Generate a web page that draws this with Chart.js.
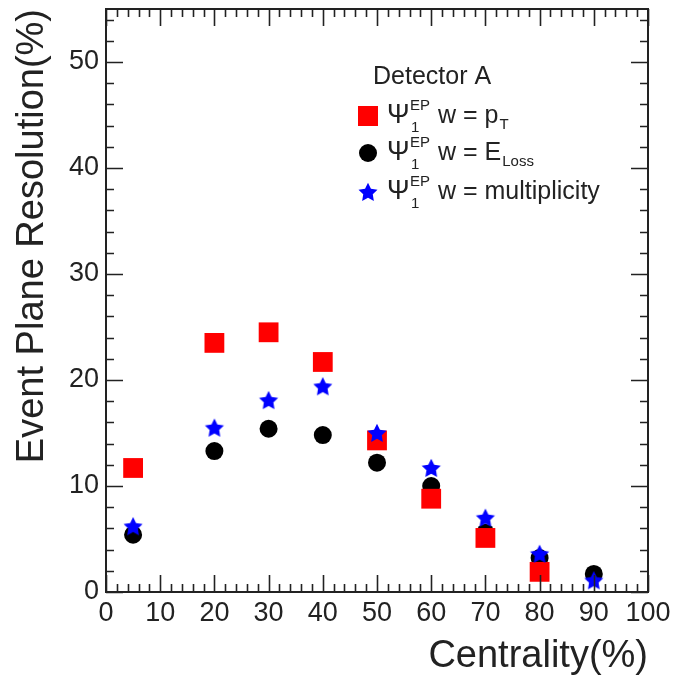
<!DOCTYPE html>
<html>
<head>
<meta charset="utf-8">
<script src="https://cdn.jsdelivr.net/npm/chart.js@4"></script>
<style>
html, body { margin: 0; padding: 0; background: #fff; }
</style>
</head>
<body>
<canvas id="chart" width="673" height="683"></canvas>
<script>
// data
const centrality = [5, 20, 30, 40, 50, 60, 70, 80, 90];
const resPt = [11.7, 23.5, 24.5, 21.7, 14.3, 8.8, 5.1, 1.9, null];
const resELoss = [5.4, 13.3, 15.4, 14.8, 12.2, 10.0, 5.6, 3.2, 1.7];
const resMult = [6.2, 15.5, 18.1, 19.4, 15.0, 11.7, 7.0, 3.6, 1.1];
const xTickValues = [0, 10, 20, 30, 40, 50, 60, 70, 80, 90, 100];
const yTickValues = [0, 10, 20, 30, 40, 50];

const FONT = '"Liberation Sans", Arial, Helvetica, sans-serif';
const RED = "#ff0000";
const BLUE = "#0000ff";

function makeStar(r, color) {
  const c = document.createElement("canvas");
  c.width = c.height = Math.ceil(r * 2 + 2);
  const g = c.getContext("2d");
  const cx = c.width / 2, cy = c.height / 2 + r * 0.08;
  g.beginPath();
  for (let i = 0; i < 10; i++) {
    const rr = i % 2 === 0 ? r : r * 0.5;
    const a = -Math.PI / 2 + i * Math.PI / 5;
    g.lineTo(cx + rr * Math.cos(a), cy + rr * Math.sin(a));
  }
  g.closePath();
  g.fillStyle = color;
  g.fill();
  return c;
}

const starImg = makeStar(10, BLUE);

function pts(ys) {
  return centrality.map((x, i) => ({ x: x, y: ys[i] })).filter(p => p.y !== null);
}

// inward ticks on all four sides + frame
const frameTicks = {
  id: "frameTicks",
  afterDatasetsDraw(chart) {
    const { ctx, chartArea: a, scales } = chart;
    const xs = scales.x, ys = scales.y;
    ctx.save();
    ctx.strokeStyle = "#222";
    ctx.lineWidth = 2;
    ctx.strokeRect(a.left, a.top, a.right - a.left, a.bottom - a.top);
    ctx.lineWidth = 1.6;
    ctx.beginPath();
    for (let v = 0; v <= 100; v += 2) {
      const px = Math.round(xs.getPixelForValue(v)) + 0.5;
      const len = v % 10 === 0 ? 17 : 8;
      ctx.moveTo(px, a.bottom); ctx.lineTo(px, a.bottom - len);
      ctx.moveTo(px, a.top); ctx.lineTo(px, a.top + len);
    }
    for (let v = 0; v <= 55; v += 2) {
      const py = Math.round(ys.getPixelForValue(v)) + 0.5;
      const len = v % 10 === 0 ? 17 : 8;
      ctx.moveTo(a.left, py); ctx.lineTo(a.left + len, py);
      ctx.moveTo(a.right, py); ctx.lineTo(a.right - len, py);
    }
    ctx.stroke();
    ctx.restore();
  }
};

const legendRows = [
  { marker: "rect", color: RED, main: "p", sub: "T" },
  { marker: "circle", color: "#000", main: "E", sub: "Loss" },
  { marker: "star", color: BLUE, main: "multiplicity", sub: "" }
];

const legendBox = {
  id: "legendBox",
  afterDraw(chart) {
    const ctx = chart.ctx;
    ctx.save();
    ctx.fillStyle = "#222";
    ctx.textBaseline = "middle";
    ctx.font = "25px " + FONT;
    ctx.fillText("Detector A", 373, 77);
    const rowY = [116, 153, 192];
    legendRows.forEach((r, i) => {
      const y = rowY[i];
      const mx = 368;
      ctx.fillStyle = r.color;
      if (r.marker === "rect") {
        ctx.fillRect(mx - 10, y - 10, 20, 20);
      } else if (r.marker === "circle") {
        ctx.beginPath(); ctx.arc(mx, y, 9, 0, Math.PI * 2); ctx.fill();
      } else {
        ctx.drawImage(starImg, mx - starImg.width / 2, y - starImg.height / 2);
      }
      ctx.fillStyle = "#222";
      ctx.font = "27px " + FONT;
      ctx.fillText("\u03A8", 387, y);
      ctx.font = "15px " + FONT;
      ctx.fillText("EP", 410, y - 10);
      ctx.fillText("1", 411, y + 12);
      ctx.font = "25px " + FONT;
      const head = "w = " + r.main;
      ctx.fillText(head, 438, y);
      if (r.sub) {
        const w = ctx.measureText(head).width;
        ctx.font = "15px " + FONT;
        ctx.fillText(r.sub, 438 + w + 1, y + 9);
      }
    });
    ctx.restore();
  }
};

new Chart(document.getElementById("chart"), {
  type: "scatter",
  data: {
    datasets: [
      {
        label: "\u03A8 w = multiplicity",
        data: pts(resMult),
        pointStyle: starImg,
        backgroundColor: BLUE,
        borderColor: BLUE,
        order: 0
      },
      {
        label: "\u03A8 w = pT",
        data: pts(resPt),
        pointStyle: "rect",
        pointRadius: 14,
        backgroundColor: RED,
        borderColor: RED,
        borderWidth: 0,
        order: 1
      },
      {
        label: "\u03A8 w = ELoss",
        data: pts(resELoss),
        pointStyle: "circle",
        pointRadius: 9,
        backgroundColor: "#000",
        borderColor: "#000",
        borderWidth: 0,
        order: 2
      }
    ]
  },
  options: {
    responsive: false,
    animation: false,
    clip: false,
    layout: { autoPadding: false, padding: { top: 9, right: 25, left: 0, bottom: 0 } },
    plugins: {
      legend: { display: false },
      tooltip: { enabled: false }
    },
    scales: {
      x: {
        type: "linear",
        min: 0,
        max: 100,
        afterFit(s) { s.height = 91; s.paddingLeft = 0; s.paddingRight = 0; },
        afterBuildTicks(s) { s.ticks = xTickValues.map(v => ({ value: v })); },
        grid: { display: false, drawTicks: false },
        border: { display: false },
        ticks: {
          color: "#222",
          padding: 5,
          maxRotation: 0,
          autoSkip: false,
          font: { family: FONT, size: 27 }
        },
        title: {
          display: true,
          text: "Centrality(%)",
          align: "end",
          color: "#222",
          font: { family: FONT, size: 38, lineHeight: 1 },
          padding: { top: 0, bottom: 7 }
        }
      },
      y: {
        type: "linear",
        min: 0,
        max: 55,
        afterFit(s) { s.width = 106; s.paddingTop = 0; s.paddingBottom = 0; },
        afterBuildTicks(s) { s.ticks = yTickValues.map(v => ({ value: v })); },
        grid: { display: false, drawTicks: false },
        border: { display: false },
        ticks: {
          color: "#222",
          padding: 7,
          autoSkip: false,
          font: { family: FONT, size: 27 }
        },
        title: {
          display: true,
          text: "Event Plane Resolution(%)",
          align: "end",
          color: "#222",
          font: { family: FONT, size: 38, lineHeight: 1 },
          padding: { top: 14, bottom: 0 }
        }
      }
    }
  },
  plugins: [frameTicks, legendBox]
});
</script>
</body>
</html>
